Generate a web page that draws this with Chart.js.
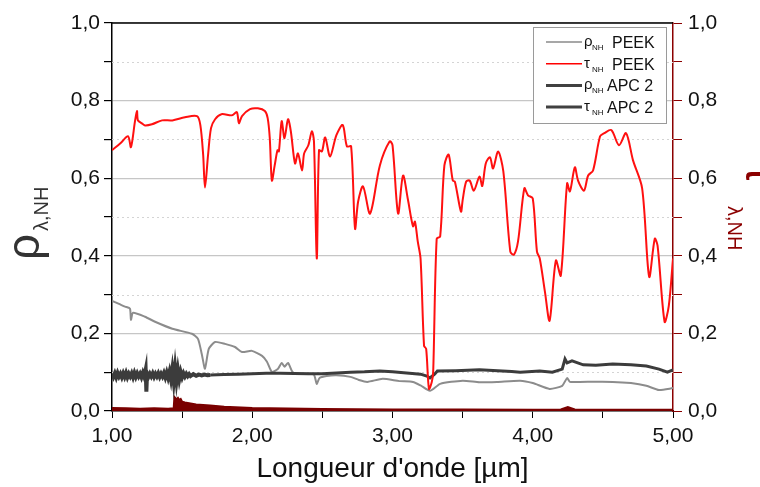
<!DOCTYPE html>
<html lang="fr">
<head>
    <meta charset="UTF-8">
    <title>Réflexion / transmission PEEK et APC 2</title>
    <script src="https://cdn.jsdelivr.net/npm/chart.js"></script>
    <style>
        body {
            margin: 0;
            padding: 0;
            background: #fff;
        }
        #wrap {
            width: 760px;
            height: 487px;
        }
    </style>
</head>
<body>
    <div id="wrap">
        <canvas id="myChart" width="760" height="487"></canvas>
    </div>

    <script>
        // tau NH PEEK (wavelength in µm / value)
        const tauPeekX = [1.000, 1.060, 1.114, 1.135, 1.164, 1.178, 1.185, 1.210, 1.235, 1.285, 1.357, 1.430, 1.520, 1.606, 1.630, 1.650, 1.663, 1.685, 1.706, 1.735,
            1.780, 1.855, 1.890, 1.905, 1.927, 1.984, 2.040, 2.090, 2.110, 2.125, 2.140, 2.160, 2.180, 2.190, 2.210, 2.230, 2.255, 2.275, 2.305, 2.326,
            2.355, 2.370, 2.400, 2.425, 2.440, 2.460, 2.476, 2.497, 2.520, 2.555, 2.600, 2.645, 2.675, 2.705, 2.733, 2.755, 2.790, 2.840, 2.910, 2.980,
            3.000, 3.040, 3.075, 3.110, 3.146, 3.160, 3.180, 3.200, 3.225, 3.240, 3.260, 3.280, 3.290, 3.315, 3.340, 3.370, 3.400, 3.430, 3.445, 3.488,
            3.500, 3.525, 3.550, 3.580, 3.620, 3.640, 3.665, 3.695, 3.717, 3.753, 3.790, 3.840, 3.866, 3.895, 3.940, 3.966, 4.000, 4.030, 4.050, 4.087,
            4.120, 4.165, 4.200, 4.245, 4.265, 4.300, 4.323, 4.365, 4.395, 4.430, 4.480, 4.510, 4.560, 4.615, 4.665, 4.715, 4.780, 4.830, 4.870, 4.890,
            4.940, 4.970, 5.000];
        const tauPeekY = [0.672, 0.690, 0.708, 0.680, 0.747, 0.773, 0.749, 0.742, 0.736, 0.739, 0.749, 0.749, 0.757, 0.760, 0.737, 0.660, 0.576, 0.660, 0.729, 0.752,
            0.765, 0.762, 0.770, 0.742, 0.760, 0.778, 0.780, 0.773, 0.755, 0.703, 0.594, 0.633, 0.672, 0.669, 0.747, 0.703, 0.752, 0.721, 0.638, 0.664,
            0.620, 0.664, 0.685, 0.721, 0.695, 0.393, 0.672, 0.669, 0.705, 0.656, 0.711, 0.737, 0.682, 0.682, 0.470, 0.540, 0.579, 0.509, 0.633, 0.695,
            0.685, 0.509, 0.607, 0.545, 0.476, 0.488, 0.437, 0.393, 0.168, 0.160, 0.057, 0.075, 0.100, 0.444, 0.450, 0.633, 0.661, 0.594, 0.591, 0.514,
            0.543, 0.591, 0.594, 0.568, 0.604, 0.580, 0.638, 0.654, 0.625, 0.669, 0.618, 0.411, 0.403, 0.437, 0.574, 0.556, 0.548, 0.411, 0.393, 0.307,
            0.233, 0.388, 0.349, 0.587, 0.566, 0.628, 0.594, 0.568, 0.607, 0.620, 0.708, 0.716, 0.724, 0.685, 0.716, 0.646, 0.574, 0.346, 0.444, 0.426,
            0.230, 0.271, 0.393];

        // rho NH PEEK
        const rhoPeekX = [1.000, 1.050, 1.093, 1.128, 1.135, 1.150, 1.235, 1.307, 1.430, 1.570, 1.613, 1.640, 1.663, 1.690, 1.735, 1.806, 1.877, 1.927, 1.998, 2.070,
            2.105, 2.140, 2.184, 2.210, 2.230, 2.255, 2.283, 2.300, 2.400, 2.440, 2.460, 2.480, 2.530, 2.600, 2.700, 2.760, 2.820, 2.930, 3.050, 3.146,
            3.200, 3.267, 3.340, 3.500, 3.620, 3.745, 3.910, 4.000, 4.120, 4.210, 4.245, 4.265, 4.335, 4.570, 4.700, 4.810, 4.900, 5.000];
        const rhoPeekY = [0.284, 0.276, 0.269, 0.264, 0.235, 0.253, 0.243, 0.230, 0.212, 0.199, 0.186, 0.147, 0.109, 0.160, 0.178, 0.173, 0.165, 0.152, 0.155, 0.142,
            0.127, 0.101, 0.109, 0.124, 0.114, 0.124, 0.103, 0.097, 0.096, 0.094, 0.070, 0.085, 0.090, 0.092, 0.088, 0.080, 0.075, 0.083, 0.077, 0.075,
            0.066, 0.052, 0.070, 0.078, 0.074, 0.075, 0.078, 0.072, 0.057, 0.065, 0.085, 0.075, 0.075, 0.075, 0.072, 0.065, 0.054, 0.059];

        // rho NH APC 2 (noisy below 1.7 µm)
        const rhoApcX = [1.00, 1.01, 1.02, 1.03, 1.04, 1.05, 1.06, 1.07, 1.08, 1.09, 1.10, 1.11, 1.12, 1.13, 1.14, 1.15, 1.16, 1.17, 1.18, 1.19,
            1.20, 1.21, 1.22, 1.23, 1.24, 1.245, 1.25, 1.26, 1.27, 1.28, 1.29, 1.30, 1.31, 1.32, 1.33, 1.34, 1.35, 1.36, 1.37, 1.38,
            1.39, 1.40, 1.41, 1.42, 1.43, 1.44, 1.45, 1.46, 1.47, 1.48, 1.49, 1.50, 1.51, 1.52, 1.53, 1.54, 1.55, 1.56, 1.58, 1.60,
            1.62, 1.64, 1.66, 1.68, 1.70,
            1.80, 1.90, 2.00, 2.10, 2.20, 2.40, 2.50, 2.60, 2.70, 2.80, 2.91, 3.00, 3.10, 3.20, 3.245, 3.267, 3.30, 3.32, 3.45, 3.62,
            3.75, 3.85, 3.91, 4.05, 4.14, 4.21, 4.23, 4.245, 4.28, 4.36, 4.45, 4.57, 4.70, 4.81, 4.90, 4.96, 5.00];
        const rhoApcY = [0.096, 0.088, 0.097, 0.087, 0.098, 0.089, 0.096, 0.087, 0.097, 0.088, 0.098, 0.087, 0.096, 0.089, 0.097, 0.087, 0.098, 0.088, 0.097, 0.089,
            0.096, 0.087, 0.098, 0.088, 0.106, 0.050, 0.097, 0.088, 0.096, 0.089, 0.097, 0.088, 0.096, 0.089, 0.097, 0.088, 0.096, 0.089, 0.098, 0.087,
            0.099, 0.086, 0.101, 0.082, 0.108, 0.076, 0.112, 0.078, 0.106, 0.082, 0.100, 0.087, 0.097, 0.089, 0.096, 0.090, 0.095, 0.090, 0.095, 0.091,
            0.094, 0.092, 0.094, 0.092, 0.093,
            0.094, 0.095, 0.096, 0.097, 0.097, 0.096, 0.096, 0.098, 0.100, 0.101, 0.103, 0.101, 0.098, 0.095, 0.090, 0.085, 0.095, 0.103, 0.104, 0.106,
            0.104, 0.102, 0.100, 0.103, 0.100, 0.108, 0.134, 0.124, 0.129, 0.119, 0.118, 0.121, 0.119, 0.116, 0.108, 0.100, 0.106];

        // tau NH APC 2 (almost zero)
        const tauApcX = [1.00, 1.10, 1.20, 1.30, 1.40, 1.44, 1.445, 1.46, 1.47, 1.48, 1.49, 1.50, 1.52, 1.55, 1.60, 1.70, 1.80, 2.00, 2.50, 3.00,
            3.50, 4.00, 4.20, 4.25, 4.30, 4.50, 5.00];
        const tauApcY = [0.008, 0.007, 0.006, 0.007, 0.006, 0.007, 0.036, 0.030, 0.034, 0.028, 0.031, 0.024, 0.022, 0.020, 0.017, 0.014, 0.011, 0.008, 0.005, 0.004,
            0.004, 0.003, 0.004, 0.010, 0.004, 0.003, 0.003];

        const xTicks = [1, 2, 3, 4, 5];
        const yTicks = [0, 0.2, 0.4, 0.6, 0.8, 1.0];

        const darkRed = '#8b0000';
        const fontName = "'Liberation Sans', Arial, sans-serif";

        function toPoints(xs, ys) {
            return xs.map((x, i) => ({ x: x, y: ys[i] }));
        }

        function frenchNum(v, digits) {
            return v.toFixed(digits).replace('.', ',');
        }

        function isMajorY(v) {
            return yTicks.some(t => Math.abs(t - v) < 1e-6);
        }

        // dotted minor grid lines, top frame, axis titles and legend
        const decorPlugin = {
            id: 'decor',
            beforeDatasetsDraw(chart) {
                const c = chart.ctx;
                const area = chart.chartArea;
                const y = chart.scales.y;
                c.save();
                c.strokeStyle = '#d4d4d4';
                c.lineWidth = 1;
                c.setLineDash([2, 3]);
                for (let v = 0.1; v < 1; v += 0.2) {
                    const py = Math.round(y.getPixelForValue(v)) + 0.5;
                    c.beginPath();
                    c.moveTo(area.left, py);
                    c.lineTo(area.right, py);
                    c.stroke();
                }
                c.restore();
            },
            afterDraw(chart) {
                const c = chart.ctx;
                const area = chart.chartArea;
                c.save();

                // top frame
                c.strokeStyle = '#000';
                c.lineWidth = 1.5;
                c.beginPath();
                c.moveTo(area.left, area.top);
                c.lineTo(area.right, area.top);
                c.stroke();

                // x title
                c.fillStyle = '#111';
                c.font = '28px ' + fontName;
                c.textAlign = 'center';
                c.textBaseline = 'alphabetic';
                c.fillText("Longueur d'onde [µm]", (area.left + area.right) / 2, 477);

                // left title: rho lambda,NH
                c.save();
                c.translate(39, 260);
                c.rotate(-Math.PI / 2);
                c.textAlign = 'left';
                c.fillStyle = '#333';
                c.font = '46px ' + fontName;
                c.fillText('ρ', 0, 0);
                c.font = '20px ' + fontName;
                c.fillText('λ,NH', 29, 9);
                c.restore();

                // right title: tau lambda,NH
                c.save();
                c.translate(746, 165);
                c.rotate(Math.PI / 2);
                c.textAlign = 'left';
                c.fillStyle = darkRed;
                c.font = '46px ' + fontName;
                c.fillText('τ', 0, 0);
                c.font = '20px ' + fontName;
                c.fillText('λ,NH', 41, 18);
                c.restore();

                // legend
                const bx = 533, by = 27, bw = 133, bh = 96;
                c.fillStyle = '#fff';
                c.fillRect(bx, by, bw, bh);
                c.strokeStyle = '#9a9a9a';
                c.lineWidth = 1;
                c.strokeRect(bx + 0.5, by + 0.5, bw, bh);

                const rows = chart.data.datasets.slice().sort((a, b) => a.legendPos - b.legendPos);
                rows.forEach((ds, i) => {
                    const ry = 42 + i * 21.7;
                    c.strokeStyle = ds.legendColor;
                    c.lineWidth = ds.legendWidth;
                    c.beginPath();
                    c.moveTo(546, ry);
                    c.lineTo(582, ry);
                    c.stroke();

                    c.fillStyle = '#111';
                    c.textAlign = 'left';
                    c.textBaseline = 'alphabetic';
                    c.font = '15px ' + fontName;
                    c.fillText(ds.sym, 584, ry + 4);
                    c.font = '8px ' + fontName;
                    c.fillText(ds.sub, 592, ry + 8);
                    c.font = '16px ' + fontName;
                    c.fillText(ds.name, ds.name === 'PEEK' ? 612 : 607, ry + 6);
                });

                c.restore();
            }
        };

        const ctx = document.getElementById('myChart').getContext('2d');
        const myChart = new Chart(ctx, {
            type: 'line',
            data: {
                datasets: [
                    {
                        label: 'τNH PEEK',
                        sym: 'τ', sub: 'NH', name: 'PEEK',
                        legendPos: 1, legendColor: '#ff0000', legendWidth: 1.5,
                        data: toPoints(tauPeekX, tauPeekY),
                        yAxisID: 'y2',
                        borderColor: '#ff1010',
                        borderWidth: 2,
                        tension: 0.3,
                        order: 0
                    },
                    {
                        label: 'ρNH PEEK',
                        sym: 'ρ', sub: 'NH', name: 'PEEK',
                        legendPos: 0, legendColor: '#8a8a8a', legendWidth: 1.5,
                        data: toPoints(rhoPeekX, rhoPeekY),
                        yAxisID: 'y',
                        borderColor: '#8c8c8c',
                        borderWidth: 2,
                        tension: 0.2,
                        order: 2
                    },
                    {
                        label: 'ρNH APC 2',
                        sym: 'ρ', sub: 'NH', name: 'APC 2',
                        legendPos: 2, legendColor: '#404040', legendWidth: 3,
                        data: toPoints(rhoApcX, rhoApcY),
                        yAxisID: 'y',
                        borderColor: '#3c3c3c',
                        borderWidth: 3,
                        segment: {
                            borderWidth: s => s.p0.parsed.x < 1.7 ? 4 : 3
                        },
                        tension: 0,
                        order: 1
                    },
                    {
                        label: 'τNH APC 2',
                        sym: 'τ', sub: 'NH', name: 'APC 2',
                        legendPos: 3, legendColor: '#404040', legendWidth: 3,
                        data: toPoints(tauApcX, tauApcY),
                        yAxisID: 'y2',
                        borderColor: '#7a0000',
                        backgroundColor: '#7a0000',
                        fill: 'origin',
                        borderWidth: 2,
                        tension: 0,
                        order: 3
                    }
                ]
            },
            options: {
                responsive: false,
                animation: false,
                devicePixelRatio: 1,
                layout: { padding: { top: 23, left: 0, right: 0, bottom: 0 } },
                elements: { point: { radius: 0 } },
                plugins: {
                    legend: { display: false },
                    tooltip: { enabled: false }
                },
                scales: {
                    x: {
                        type: 'linear',
                        min: 1,
                        max: 5,
                        afterFit: s => { s.height = 76; },
                        afterBuildTicks: s => {
                            s.ticks = [];
                            for (let v = 1; v <= 5.001; v += 0.5) s.ticks.push({ value: v });
                        },
                        ticks: {
                            autoSkip: false,
                            maxRotation: 0,
                            padding: 6,
                            color: '#111',
                            font: { family: fontName, size: 21 },
                            callback: v => xTicks.includes(v) ? frenchNum(v, 2) : ''
                        },
                        grid: {
                            drawOnChartArea: false,
                            tickColor: '#000',
                            tickLength: 7
                        },
                        border: { color: '#000', width: 1.5 }
                    },
                    y: {
                        position: 'left',
                        min: 0,
                        max: 1,
                        afterFit: s => { s.width = 112; },
                        ticks: {
                            stepSize: 0.1,
                            padding: 4,
                            color: '#111',
                            font: { family: fontName, size: 21 },
                            callback: v => isMajorY(v) ? frenchNum(v, 1) : ''
                        },
                        grid: {
                            color: c => (c.tick && isMajorY(c.tick.value)) ? '#c6c6c6' : 'rgba(0,0,0,0)',
                            lineWidth: 1.2,
                            tickColor: '#000',
                            tickLength: 8
                        },
                        border: { color: '#000', width: 1.5 }
                    },
                    y2: {
                        position: 'right',
                        min: 0,
                        max: 1,
                        afterFit: s => { s.width = 87; },
                        ticks: {
                            stepSize: 0.1,
                            padding: 6,
                            color: '#111',
                            font: { family: fontName, size: 21 },
                            callback: v => isMajorY(v) ? frenchNum(v, 1) : ''
                        },
                        grid: {
                            drawOnChartArea: false,
                            tickColor: darkRed,
                            tickLength: 9
                        },
                        border: { color: darkRed, width: 1.5 }
                    }
                }
            },
            plugins: [decorPlugin]
        });
    </script>
</body>
</html>
